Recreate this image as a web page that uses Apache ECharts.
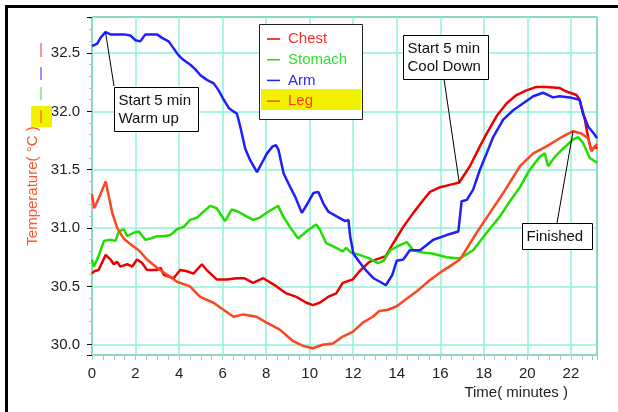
<!DOCTYPE html>
<html>
<head>
<meta charset="utf-8">
<script src="https://cdn.jsdelivr.net/npm/echarts@6/dist/echarts.min.js"></script>
<style>
  html, body { margin: 0; padding: 0; background: #fff; }
  #chart { width: 618px; height: 412px; }
</style>
</head>
<body>
<div id="chart"></div>
<script>
// time (minutes), temperature (°C)
const seriesNames = ['Chest', 'Stomach', 'Arm', 'Leg'];

const chest = [[0,30.61],[0.1,30.63],[0.3,30.64],[0.63,30.77],[0.85,30.73],[1.0,30.69],[1.16,30.71],[1.3,30.67],[1.62,30.69],[1.85,30.67],[2.07,30.73],[2.3,30.7],[2.53,30.64],[2.99,30.64],[3.15,30.66],[3.3,30.6],[3.75,30.57],[4.05,30.64],[4.36,30.63],[4.66,30.61],[5.05,30.69],[5.27,30.64],[5.73,30.56],[6.19,30.56],[6.65,30.57],[7.0,30.57],[7.4,30.53],[7.87,30.57],[8.48,30.5],[8.93,30.44],[9.39,30.41],[9.85,30.36],[10.15,30.34],[10.46,30.36],[10.84,30.41],[11.22,30.44],[11.52,30.53],[11.98,30.56],[12.29,30.63],[12.74,30.71],[13.2,30.74],[13.5,30.76],[13.84,30.87],[14.3,31.01],[14.76,31.13],[15.22,31.24],[15.53,31.31],[15.99,31.35],[16.44,31.37],[16.87,31.39],[17.36,31.53],[17.82,31.7],[18.13,31.81],[18.59,31.96],[19.05,32.07],[19.5,32.14],[19.96,32.18],[20.42,32.21],[20.88,32.21],[21.49,32.2],[21.8,32.17],[22.26,32.14],[22.4,32.1],[22.64,31.93],[22.79,31.78],[22.94,31.66],[23.1,31.7],[23.2,31.68]];

const stomach = [[0,30.73],[0.09,30.67],[0.32,30.77],[0.55,30.89],[0.85,30.9],[1.08,30.89],[1.23,30.97],[1.46,30.99],[1.62,30.93],[1.92,30.96],[2.15,30.97],[2.45,30.9],[2.68,30.91],[2.99,30.93],[3.29,30.93],[3.6,30.94],[3.9,30.99],[4.21,31.01],[4.51,31.07],[4.82,31.09],[5.12,31.14],[5.43,31.19],[5.73,31.17],[6.11,31.06],[6.42,31.16],[6.72,31.14],[7.1,31.1],[7.4,31.07],[7.71,31.09],[8.09,31.14],[8.55,31.19],[8.78,31.1],[9.09,31.01],[9.47,30.91],[9.85,30.97],[10.3,31.03],[10.46,30.99],[10.76,30.87],[11.22,30.83],[11.52,30.8],[11.68,30.83],[11.9,30.79],[12.29,30.77],[12.74,30.74],[13.13,30.7],[13.4,30.72],[13.7,30.81],[14.1,30.85],[14.46,30.88],[14.76,30.81],[15.2,30.79],[15.68,30.78],[16.29,30.75],[16.9,30.74],[17.51,30.81],[18.13,30.96],[18.74,31.1],[19.2,31.23],[19.66,31.35],[20.11,31.5],[20.57,31.61],[20.8,31.64],[20.95,31.53],[21.26,31.61],[21.64,31.68],[22.1,31.76],[22.33,31.78],[22.56,31.73],[22.87,31.6],[23.2,31.56]];

const arm = [[0,32.56],[0.24,32.58],[0.39,32.63],[0.62,32.68],[0.85,32.66],[1.46,32.66],[1.77,32.65],[2.0,32.61],[2.22,32.6],[2.45,32.66],[2.99,32.66],[3.22,32.63],[3.52,32.6],[3.75,32.54],[3.98,32.48],[4.21,32.44],[4.52,32.4],[4.75,32.36],[4.98,32.31],[5.28,32.27],[5.59,32.24],[5.82,32.18],[6.05,32.1],[6.28,32.03],[6.5,32.0],[6.66,31.98],[6.81,31.87],[7.04,31.68],[7.27,31.58],[7.58,31.48],[7.81,31.56],[8.04,31.64],[8.3,31.7],[8.45,31.71],[8.57,31.67],[8.8,31.47],[9.03,31.38],[9.33,31.27],[9.64,31.13],[9.87,31.2],[10.17,31.3],[10.4,31.31],[10.63,31.21],[10.86,31.14],[11.24,31.1],[11.63,31.06],[11.78,31.07],[11.86,30.93],[12.01,30.78],[12.32,30.7],[12.62,30.63],[12.93,30.57],[13.23,30.54],[13.5,30.51],[13.8,30.6],[14.0,30.72],[14.3,30.73],[14.6,30.81],[15.07,30.81],[15.68,30.9],[16.29,30.94],[16.83,30.97],[16.98,31.23],[17.21,31.24],[17.51,31.33],[17.82,31.5],[18.13,31.64],[18.43,31.78],[18.89,31.93],[19.35,32.01],[19.81,32.07],[20.27,32.13],[20.72,32.16],[21.18,32.12],[21.49,32.13],[21.95,32.12],[22.4,32.1],[22.56,31.98],[22.79,31.87],[23.1,31.8],[23.2,31.77]];

const leg = [[0,31.29],[0.1,31.17],[0.3,31.25],[0.63,31.4],[0.93,31.13],[1.16,31.0],[1.46,30.91],[1.77,30.86],[2.15,30.81],[2.53,30.73],[2.99,30.66],[3.45,30.6],[3.9,30.54],[4.5,30.5],[4.97,30.41],[5.58,30.36],[6.04,30.3],[6.5,30.24],[6.95,30.26],[7.56,30.24],[8.02,30.19],[8.63,30.13],[9.24,30.03],[9.7,29.99],[10.15,29.97],[10.6,30.0],[11.07,30.01],[11.52,30.07],[11.98,30.11],[12.44,30.19],[12.9,30.24],[13.2,30.29],[13.6,30.3],[14.0,30.33],[14.5,30.4],[15.0,30.47],[15.5,30.55],[16.0,30.62],[16.5,30.68],[16.9,30.73],[17.67,30.96],[18.28,31.13],[18.89,31.3],[19.66,31.53],[20.27,31.64],[20.88,31.7],[21.49,31.77],[22.1,31.83],[22.48,31.81],[22.79,31.77],[22.94,31.66],[23.2,31.72]];

const xRange = [0, 23.2];
const yRange = [29.912, 32.809];

const lineColors = { Chest: '#ee0000', Stomach: '#22dd00', Arm: '#1e1eff', Leg: '#ff4422' };
const labelColors = { Chest: '#ff2a2a', Stomach: '#2ee02e', Arm: '#2a2aff', Leg: '#ff3a10' };
const dataByName = { Chest: chest, Stomach: stomach, Arm: arm, Leg: leg };

const font = "'Liberation Sans', Arial, sans-serif";
const gridGreen = '#8ef3d6';
const tickGreen = '#a6cfa6';

const chart = echarts.init(document.getElementById('chart'));

chart.setOption({
  animation: false,
  backgroundColor: '#fff',
  textStyle: { fontFamily: font },
  grid: {
    left: 92, top: 17, width: 505, height: 338,
    show: true, borderColor: '#111', borderWidth: 1, backgroundColor: '#fff'
  },
  legend: {
    orient: 'vertical', left: 267, top: 31.5, padding: 0,
    itemGap: 5.7, itemWidth: 13, itemHeight: 1.5, icon: 'rect',
    selectedMode: false, z: 4,
    textStyle: { fontSize: 15, lineHeight: 15, padding: [0, 0, 0, 3] },
    data: seriesNames.map(n => ({ name: n, textStyle: { color: labelColors[n] } }))
  },
  xAxis: {
    type: 'value', min: xRange[0], max: xRange[1],
    minInterval: 2, maxInterval: 2, splitNumber: 12,
    axisLine: { show: false },
    axisTick: { show: true, length: 5, lineStyle: { color: tickGreen } },
    minorTick: { show: true, splitNumber: 4, length: 5, lineStyle: { color: tickGreen } },
    axisLabel: { color: '#222', fontSize: 15, margin: 11, showMinLabel: true, showMaxLabel: false },
    splitLine: { show: true, lineStyle: { color: gridGreen, width: 1.5 } }
  },
  yAxis: {
    type: 'value', min: yRange[0], max: yRange[1],
    minInterval: 0.5, maxInterval: 0.5, splitNumber: 6,
    name: 'Temperature( °C )', nameLocation: 'middle', nameGap: 50, nameRotate: 90,
    nameTextStyle: { color: '#ff5533', fontSize: 15 },
    axisLine: { show: false },
    axisTick: { show: true, length: 5, lineStyle: { color: '#111' } },
    minorTick: { show: true, splitNumber: 5, length: 3, lineStyle: { color: tickGreen } },
    axisLabel: {
      color: '#222', fontSize: 15, margin: 12, showMinLabel: false, showMaxLabel: false,
      formatter: v => v.toFixed(1)
    },
    splitLine: { show: true, lineStyle: { color: gridGreen, width: 1.5 } }
  },
  series: seriesNames.map(n => ({
    name: n, type: 'line', data: dataByName[n],
    showSymbol: false, symbol: 'none', smooth: false,
    lineStyle: { color: lineColors[n], width: 2.5 },
    itemStyle: { color: lineColors[n] }
  }))
});

// callouts: anchored on a data point, box placed in pixels
const notes = [
  { text: 'Start 5 min\nWarm up', point: arm.find(p => p[0] === 0.62), box: [114, 87, 84, 44], from: [114, 86] },
  { text: 'Start 5 min\nCool Down', point: chest.find(p => p[0] === 16.87), box: [403, 35, 85, 44], from: [444, 79] },
  { text: 'Finished', point: leg.find(p => p[0] === 22.1), box: [522, 223, 70, 26], from: [557, 223] }
];

const graphics = [
  // page frame (top and left edges only)
  { type: 'line', shape: { x1: 5, y1: 6.5, x2: 618, y2: 6.5 }, style: { stroke: '#000', lineWidth: 3 }, z: 10 },
  { type: 'line', shape: { x1: 6.5, y1: 5, x2: 6.5, y2: 412 }, style: { stroke: '#000', lineWidth: 3 }, z: 10 },
  // legend box and highlighted row
  { type: 'rect', shape: { x: 259.5, y: 24.5, width: 103, height: 95 }, style: { fill: '#fff', stroke: '#222', lineWidth: 1 }, z: 3 },
  { type: 'rect', shape: { x: 261, y: 89, width: 100, height: 21 }, style: { fill: '#f2f200' }, z: 3 },
  // colour marks beside the axis title
  { type: 'rect', shape: { x: 31, y: 106, width: 21, height: 21 }, style: { fill: '#f2f200' }, z: 3 },
  { type: 'line', shape: { x1: 41, y1: 43, x2: 41, y2: 57 }, style: { stroke: labelColors.Chest, lineWidth: 1 }, z: 4 },
  { type: 'line', shape: { x1: 41, y1: 67, x2: 41, y2: 80 }, style: { stroke: labelColors.Arm, lineWidth: 1 }, z: 4 },
  { type: 'line', shape: { x1: 41, y1: 87, x2: 41, y2: 100 }, style: { stroke: labelColors.Stomach, lineWidth: 1 }, z: 4 },
  { type: 'line', shape: { x1: 41, y1: 110, x2: 41, y2: 123 }, style: { stroke: labelColors.Leg, lineWidth: 1 }, z: 4 },
  // axis title
  { type: 'text', x: 568, y: 393, style: { text: 'Time( minutes )', font: '15px ' + font, fill: '#222', textAlign: 'right', textVerticalAlign: 'middle' }, z: 4 }
];

notes.forEach(n => {
  const tip = chart.convertToPixel({ gridIndex: 0 }, n.point);
  const [bx, by, bw, bh] = n.box;
  graphics.push(
    { type: 'line', shape: { x1: tip[0], y1: tip[1], x2: n.from[0], y2: n.from[1] }, style: { stroke: '#000', lineWidth: 1 }, z: 10 },
    { type: 'rect', shape: { x: bx + 0.5, y: by + 0.5, width: bw, height: bh }, style: { fill: '#fff', stroke: '#000', lineWidth: 1 }, z: 11 },
    { type: 'text', x: bx + 4.5, y: by + bh / 2 + 1, style: { text: n.text, font: '15px ' + font, fill: '#111', lineHeight: 18, textAlign: 'left', textVerticalAlign: 'middle' }, z: 12 }
  );
});

chart.setOption({ graphic: graphics });
</script>
</body>
</html>
